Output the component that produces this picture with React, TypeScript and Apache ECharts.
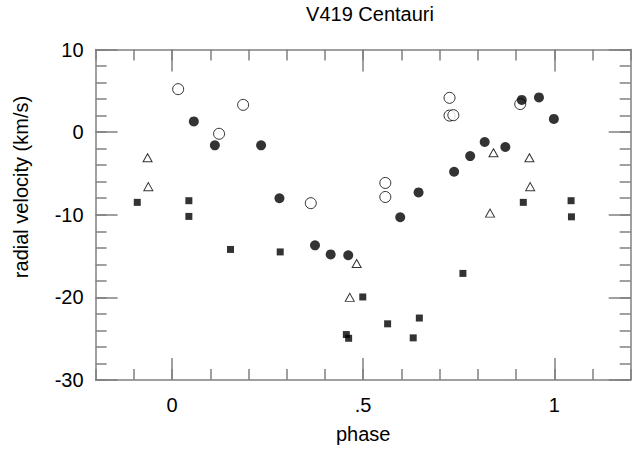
import React, { useEffect, useRef } from "react";
import * as echarts from "echarts";

const filledCircleX = [0.057, 0.112, 0.233, 0.281, 0.374, 0.415, 0.461, 0.597, 0.645, 0.738, 0.780, 0.818, 0.872, 0.915, 0.960, 0.999];
const filledCircleY = [1.3, -1.6, -1.6, -8.0, -13.7, -14.8, -14.9, -10.3, -7.3, -4.8, -2.9, -1.2, -1.8, 3.9, 4.2, 1.6];

const openCircleX = [0.016, 0.123, 0.186, 0.363, 0.558, 0.558, 0.726, 0.726, 0.736, 0.911];
const openCircleY = [5.2, -0.2, 3.3, -8.6, -6.15, -7.85, 4.15, 2.0, 2.05, 3.4];

const triangleX = [-0.064, -0.062, 0.841, 0.935, 0.937, 0.832, 0.483, 0.465];
const triangleY = [-3.1, -6.6, -2.5, -3.1, -6.6, -9.8, -15.9, -20.0];

const squareX = [-0.091, 0.044, 0.044, 0.153, 0.283, 0.456, 0.462, 0.499, 0.564, 0.631, 0.647, 0.761, 0.919, 1.044, 1.045];
const squareY = [-8.5, -8.3, -10.2, -14.2, -14.5, -24.5, -24.95, -19.95, -23.2, -24.9, -22.5, -17.1, -8.5, -8.3, -10.25];

const xMajor = [0, 0.5, 1];
const xLabels = ["0", ".5", "1"];
const yMajor = [-30, -20, -10, 0, 10];
const yLabels = ["-30", "-20", "-10", "0", "10"];

const zip = (xs: number[], ys: number[]) => xs.map((x, i) => [x, ys[i]]);

const AX = "#808080";
const FONT = "Liberation Sans, Arial, Helvetica, sans-serif";

export default function App() {
  const ref = useRef<HTMLDivElement>(null);
  useEffect(() => {
    if (!ref.current) return;
    const chart = echarts.init(ref.current, undefined, { renderer: "svg" });
    const xBase = { type: "value", min: -0.2, max: 1.2, interval: 0.1, splitLine: { show: false } };
    const yBase = { type: "value", min: -30, max: 10, interval: 2, splitLine: { show: false } };
    const lineOn = { show: true, onZero: false, lineStyle: { color: AX, width: 1.5 } };
    const lineOff = { show: false, onZero: false };
    chart.setOption({
      animation: false,
      backgroundColor: "#ffffff",
      textStyle: { fontFamily: FONT },
      title: {
        text: "V419 Centauri",
        left: 365,
        textAlign: "center",
        top: -1,
        textStyle: { fontSize: 20, fontWeight: "normal", color: "#000", fontFamily: FONT },
      },
      graphic: [
        {
          type: "text",
          x: 21,
          y: 187,
          rotation: Math.PI / 2,
          style: {
            text: "radial velocity (km/s)",
            fontSize: 20,
            fontFamily: FONT,
            fill: "#000",
            align: "center",
            verticalAlign: "middle",
          },
        },
      ],
      grid: { left: 95.6, right: 1.3, top: 49.5, bottom: 67, containLabel: false },
      xAxis: [
        {
          ...xBase,
          position: "bottom",
          name: "phase",
          nameLocation: "middle",
          nameGap: 44,
          nameTextStyle: { fontSize: 20, color: "#000", fontFamily: FONT },
          axisLine: lineOn,
          axisTick: { show: true, inside: true, length: 22, customValues: xMajor, lineStyle: { color: AX, width: 1.5 } },
          axisLabel: {
            show: true,
            customValues: xMajor,
            margin: 15,
            fontSize: 20,
            color: "#000",
            fontFamily: FONT,
            formatter: (v: number) => {
              const i = xMajor.findIndex((m) => Math.abs(m - v) < 1e-6);
              return i >= 0 ? xLabels[i] : "";
            },
          },
        },
        {
          ...xBase,
          position: "bottom",
          axisLine: lineOff,
          axisTick: { show: true, inside: true, length: 11, lineStyle: { color: AX, width: 1.5 } },
          axisLabel: { show: false },
        },
        {
          ...xBase,
          position: "top",
          axisLine: lineOn,
          axisTick: { show: true, inside: true, length: 22, customValues: xMajor, lineStyle: { color: AX, width: 1.5 } },
          axisLabel: { show: false },
        },
        {
          ...xBase,
          position: "top",
          axisLine: lineOff,
          axisTick: { show: true, inside: true, length: 11, lineStyle: { color: AX, width: 1.5 } },
          axisLabel: { show: false },
        },
      ],
      yAxis: [
        {
          ...yBase,
          position: "left",
          axisLine: lineOn,
          axisTick: { show: true, inside: true, length: 22, customValues: yMajor, lineStyle: { color: AX, width: 1.5 } },
          axisLabel: {
            show: true,
            customValues: yMajor,
            margin: 12,
            fontSize: 20,
            color: "#000",
            fontFamily: FONT,
            formatter: (v: number) => {
              const i = yMajor.findIndex((m) => Math.abs(m - v) < 1e-6);
              return i >= 0 ? yLabels[i] : "";
            },
          },
        },
        {
          ...yBase,
          position: "left",
          axisLine: lineOff,
          axisTick: { show: true, inside: true, length: 11, lineStyle: { color: AX, width: 1.5 } },
          axisLabel: { show: false },
        },
        {
          ...yBase,
          position: "right",
          axisLine: lineOn,
          axisTick: { show: true, inside: true, length: 22, customValues: yMajor, lineStyle: { color: AX, width: 1.5 } },
          axisLabel: { show: false },
        },
        {
          ...yBase,
          position: "right",
          axisLine: lineOff,
          axisTick: { show: true, inside: true, length: 11, lineStyle: { color: AX, width: 1.5 } },
          axisLabel: { show: false },
        },
      ],
      series: [
        {
          name: "open circles",
          type: "scatter",
          symbol: "circle",
          symbolSize: 11,
          itemStyle: { color: "#fff", borderColor: "#000", borderWidth: 1 },
          data: zip(openCircleX, openCircleY),
        },
        {
          name: "filled circles",
          type: "scatter",
          symbol: "circle",
          symbolSize: 10,
          itemStyle: { color: "#000" },
          data: zip(filledCircleX, filledCircleY),
        },
        {
          name: "triangles",
          type: "scatter",
          symbol: "triangle",
          symbolSize: [9, 8],
          itemStyle: { color: "#fff", borderColor: "#000", borderWidth: 1 },
          data: zip(triangleX, triangleY),
        },
        {
          name: "squares",
          type: "scatter",
          symbol: "rect",
          symbolSize: 7,
          itemStyle: { color: "#000" },
          data: zip(squareX, squareY),
        },
      ],
    });
    return () => chart.dispose();
  }, []);
  return <div ref={ref} style={{ width: 632, height: 449, position: "absolute", left: 0, top: 0 }} />;
}
